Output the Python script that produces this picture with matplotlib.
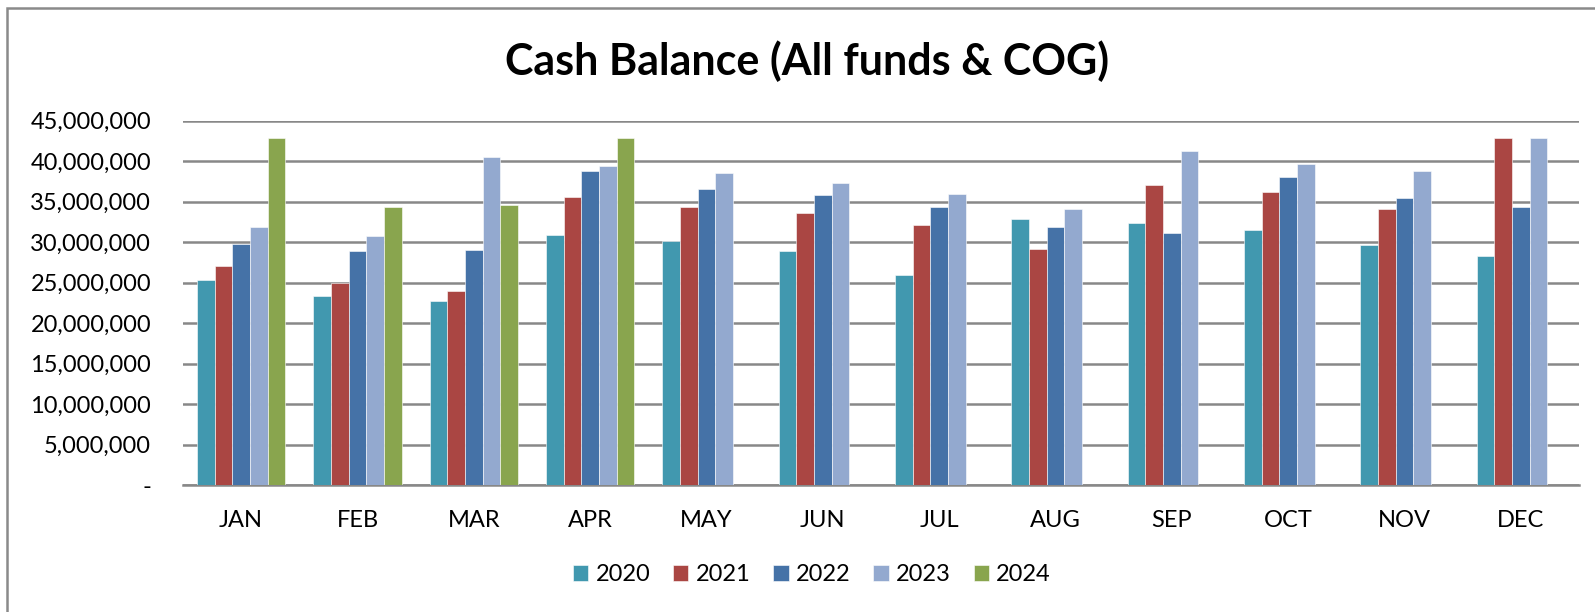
import numpy as np
import matplotlib
matplotlib.use("Agg")
import matplotlib.pyplot as plt
from matplotlib.ticker import FuncFormatter
from matplotlib.patches import Rectangle

plt.rcParams['font.family'] = ['Lato', 'DejaVu Sans']

# Monthly cash balance, in millions
months = ["JAN", "FEB", "MAR", "APR", "MAY", "JUN", "JUL", "AUG", "SEP", "OCT", "NOV", "DEC"]
years = ["2020", "2021", "2022", "2023", "2024"]
y2020 = [25.3, 23.3, 22.7, 30.9, 30.1, 28.9, 26.0, 32.8, 32.4, 31.5, 29.6, 28.3]
y2021 = [27.0, 25.0, 24.0, 35.6, 34.4, 33.6, 32.1, 29.1, 37.1, 36.2, 34.1, 42.8]
y2022 = [29.8, 28.9, 29.0, 38.8, 36.6, 35.8, 34.4, 31.9, 31.1, 38.0, 35.4, 34.3]
y2023 = [31.9, 30.8, 40.5, 39.4, 38.6, 37.3, 36.0, 34.1, 41.3, 39.6, 38.8, 42.8]
y2024 = [42.8, 34.4, 34.6, 42.8, np.nan, np.nan, np.nan, np.nan, np.nan, np.nan, np.nan, np.nan]
series = [y2020, y2021, y2022, y2023, y2024]
colors = ["#4198AF", "#AA4643", "#4572A7", "#93A9CF", "#89A54E"]

fig = plt.figure(figsize=(15.95, 6.12), dpi=100)
ax = fig.add_axes([0.1147, 0.2075, 0.8753, 0.5953])

x = np.arange(len(months))
w = 0.152
for i, (vals, c, yr) in enumerate(zip(series, colors, years)):
    ax.bar(x + (i - 2) * w, np.array(vals) * 1e6, width=w, color=c,
           edgecolor="white", linewidth=0.4, label=yr, zorder=3)

ax.set_xlim(-0.5, len(months) - 0.5)
ax.set_ylim(0, 45e6)
ax.set_yticks(np.arange(0, 45e6 + 1, 5e6))
ax.yaxis.set_major_formatter(FuncFormatter(lambda v, p: "-" if v == 0 else f"{v:,.0f}"))
ax.set_xticks(x)
ax.set_xticklabels(months)
ax.tick_params(axis="both", length=0, labelsize=17, colors="black")
ax.tick_params(axis="y", pad=23)
ax.tick_params(axis="x", pad=18)
ax.grid(axis="y", color="#888888", linewidth=1.8, zorder=0)
for s in ["left", "right", "top"]:
    ax.spines[s].set_visible(False)
ax.spines["bottom"].set_color("#888888")
ax.spines["bottom"].set_linewidth(1.8)

fig.text(0.506, 0.90, "Cash Balance (All funds & COG)", ha="center", va="center",
         fontsize=31, fontweight="bold")

ax.legend(loc="center", bbox_to_anchor=(0.509, 0.0605), bbox_transform=fig.transFigure,
          ncol=5, frameon=False, fontsize=17, handlelength=0.64, handleheight=0.64,
          handletextpad=0.3, columnspacing=0.98)

# outer chart border (only top and left visible in the crop)
fig.patches.append(Rectangle((7 / 1595, -0.1), 1.2, 1 - 8 / 612 + 0.1, transform=fig.transFigure,
                             fill=False, edgecolor="#8a8a8a", linewidth=1.8))

fig.savefig("out.png", dpi=100)
